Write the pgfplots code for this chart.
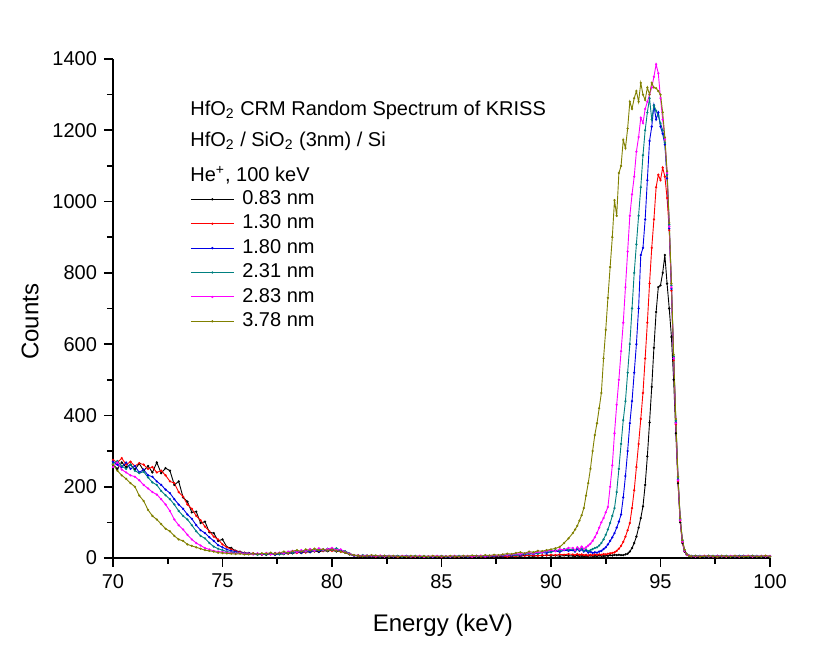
\documentclass[border=0pt]{standalone}
\usepackage{fontspec}
\setmainfont{Liberation Sans}
\usepackage{pgfplots}
\usepackage{pgfplotstable}
\pgfplotsset{compat=1.18}
\definecolor{oblack}{RGB}{0,0,0}
\definecolor{ored}{RGB}{255,0,0}
\definecolor{oblue}{RGB}{0,0,230}
\definecolor{ocyan}{RGB}{0,128,128}
\definecolor{omag}{RGB}{255,0,255}
\definecolor{oolive}{RGB}{128,128,0}

% E (keV) and counts for 0.83, 1.30, 1.80, 2.31, 2.83, 3.78 nm
\pgfplotstableread{
E a b c d e f
70.0 262 275 270 265 255 262
70.2 250 268 262 272 268 245
70.4 268 280 255 258 248 232
70.6 255 262 268 250 240 222
70.8 262 270 250 262 232 210
71.0 248 258 258 245 228 200
71.2 265 266 240 238 218 175
71.4 245 262 248 242 205 160
71.6 258 250 232 226 195 135
71.8 240 255 228 212 185 118
72.0 268 240 215 205 178 108
72.2 238 245 205 188 165 95
72.4 252 232 192 176 150 82
72.6 245 215 182 165 132 75
72.8 205 210 165 150 108 62
73.0 215 185 150 132 92 52
73.2 170 172 138 118 80 48
73.4 158 150 122 108 65 38
73.6 128 138 110 92 52 34
73.8 130 118 92 75 42 30
74.0 98 106 78 62 35 26
74.2 102 88 70 55 28 22
74.4 72 75 58 42 24 20
74.6 70 60 48 32 20 18
74.8 48 52 36 26 18 15
75.0 52 38 30 22 17 14
75.2 31 30 24 18 15 13
75.4 28 24 20 16 14 12
75.6 20 20 18 15 13 11
75.8 18 16 15 14 14 12
76.0 14 15 14 13 12 10
76.2 14 12 13 11 12 10
76.4 12 13 11 12 10 12
76.6 10 12 12 9 13 11
76.8 11 9 10 12 11 13
77.0 9 12 11 10 14 12
77.2 12 10 13 11 10 15
77.4 10 14 9 13 12 11
77.6 13 11 12 10 15 14
77.8 11 13 14 12 13 18
78.0 15 12 13 16 18 14
78.2 13 16 15 14 20 19
78.4 16 14 18 17 16 22
78.6 14 18 15 20 22 18
78.8 18 15 20 17 19 24
79.0 16 20 17 22 25 21
79.2 20 18 22 19 21 26
79.4 17 22 19 24 27 22
79.6 21 19 24 21 23 25
79.8 19 23 21 26 25 21
80.0 22 20 25 23 28 24
80.2 18 22 20 27 22 20
80.4 20 17 23 22 24 18
80.6 15 18 17 19 16 15
80.8 10 12 11 13 12 10
81.0 7 8 6 8 7 8
81.2 6 5 7 6 8 7
81.4 5 7 6 8 6 5
81.6 6 5 5 7 7 6
81.8 4 6 7 5 6 8
82.0 5 4 6 6 5 7
82.2 6 5 4 5 7 5
82.4 4 6 5 6 4 6
82.6 5 4 6 4 6 5
82.8 4 5 4 5 5 6
83.0 5 3 5 6 4 4
83.2 3 5 4 4 6 5
83.4 4 4 6 5 5 4
83.6 5 3 4 4 5 6
83.8 3 4 5 6 4 5
84.0 4 5 3 4 6 4
84.2 5 3 4 5 3 5
84.4 3 4 5 3 5 4
84.6 4 5 3 4 4 6
84.8 3 4 4 5 6 4
85.0 5 3 5 4 4 5
85.2 4 4 3 5 5 4
85.4 3 5 4 3 4 6
85.6 4 3 5 4 6 5
85.8 5 4 4 6 4 4
86.0 3 5 5 4 5 6
86.2 4 4 3 5 6 5
86.4 5 3 4 6 4 7
86.6 4 5 6 4 5 6
86.8 3 4 5 5 7 5
87.0 4 3 4 6 5 8
87.2 5 5 6 5 6 7
87.4 4 4 5 7 8 9
87.6 5 6 7 6 7 8
87.8 4 5 6 8 9 10
88.0 6 4 8 7 8 12
88.2 5 6 7 9 10 11
88.4 6 5 9 8 12 14
88.6 5 7 8 10 11 16
88.8 7 6 10 12 13 13
89.0 6 8 12 11 15 18
89.2 5 7 11 14 13 16
89.4 7 6 13 12 17 20
89.6 6 8 15 16 16 19
89.8 8 7 14 18 20 22
90.0 6 9 18 16 22 24
90.2 7 8 20 22 19 27
90.4 5 10 17 20 25 31
90.6 7 9 22 25 23 42
90.8 6 11 20 23 28 55
91.0 6 10 22 25 28 70
91.1 5 8 18 20 22 80
91.2 7 11 25 28 30 90
91.3 5 9 20 22 25 105
91.4 6 10 24 26 32 120
91.5 4 8 18 20 26 140
91.6 6 9 21 24 30 175
91.7 5 7 15 19 35 210
91.8 7 9 18 22 40 250
91.9 5 8 14 25 48 300
92.0 6 10 16 28 58 345
92.1 5 9 15 30 70 378
92.2 7 10 18 35 85 420
92.3 6 9 20 42 100 463
92.4 5 11 25 52 112 560
92.5 7 10 30 65 128 640
92.6 6 12 38 80 143 730
92.7 8 13 48 98 200 816
92.8 7 14 58 118 260 900
92.9 9 16 70 140 350 1004
93.0 8 20 85 185 430 960
93.1 9 26 102 250 500 1080
93.2 8 34 122 320 580 1100
93.3 8 45 170 387 660 1173
93.4 10 60 230 440 760 1150
93.5 12 78 300 520 860 1205
93.6 18 98 378 600 960 1280
93.7 28 140 440 700 1020 1260
93.8 42 190 520 800 1070 1290
93.9 60 255 600 880 1140 1310
94.0 85 320 700 960 1181 1280
94.1 112 390 850 1040 1235 1333
94.2 145 463 870 1130 1220 1300
94.3 205 560 950 1200 1260 1285
94.4 285 660 1060 1250 1280 1320
94.5 380 770 1170 1290 1300 1300
94.6 480 870 1210 1230 1320 1333
94.7 590 950 1270 1270 1350 1320
94.8 690 1040 1230 1255 1385 1318
94.9 760 1075 1250 1240 1360 1310
95.0 765 1060 1210 1220 1290 1300
95.1 800 1095 1190 1200 1230 1250
95.2 850 1070 1160 1165 1175 1180
95.3 770 1010 1065 1075 1080 1085
95.4 700 920 925 935 930 940
95.5 620 750 755 765 760 770
95.6 500 555 560 565 560 570
95.7 350 375 380 385 378 390
95.8 210 215 220 225 218 228
95.9 100 105 108 110 106 112
96.0 42 45 48 50 46 50
96.1 18 20 21 22 20 23
96.2 9 10 10 11 9 11
96.3 6 6 7 6 7 6
96.4 5 5 5 6 5 5
96.6 4 5 6 5 4 6
96.8 5 4 5 6 5 4
97.0 3 6 4 5 6 5
97.2 5 4 6 4 5 6
97.4 4 5 5 6 4 5
97.6 6 3 4 5 6 4
97.8 4 5 6 4 5 6
98.0 5 4 5 6 4 5
98.2 3 5 4 5 6 4
98.4 5 6 5 4 5 6
98.6 4 4 6 5 4 5
98.8 6 5 4 6 5 4
99.0 4 6 5 4 6 5
99.2 5 4 6 5 4 6
99.4 3 5 4 6 5 4
99.6 5 4 5 4 6 5
99.8 4 6 4 5 4 6
100.0 5 5 5 4 5 4
}\spectra

\begin{document}
\begin{tikzpicture}
\useasboundingbox (0,0) rectangle (410.5pt,334pt);
\begin{axis}[
  at={(56.5pt,55pt)}, anchor=south west,
  scale only axis, width=328.5pt, height=249.5pt,
  xmin=70, xmax=100, ymin=0, ymax=1400,
  axis lines*=left,
  axis line style={line width=1pt},
  xtick={70,75,...,100}, ytick={0,200,...,1400},
  minor x tick num=1, minor y tick num=1,
  tick align=outside,
  major tick length=4.5pt, minor tick length=3pt,
  tick style={black, line width=0.8pt},
  tick label style={font=\fontsize{10}{12}\selectfont},
  /pgf/number format/assume math mode=true,
  /pgf/number format/1000 sep={},
  xlabel={Energy (keV)}, ylabel={Counts},
  label style={font=\fontsize{12}{14}\selectfont},
  xlabel style={at={(axis description cs:0.502,-0.134)}, anchor=center},
  ylabel style={at={(axis description cs:-0.126,0.473)}, anchor=center},
  legend cell align=left,
  legend style={at={(axis description cs:0.1172,0.738)}, anchor=north west,
    draw=none, fill=none, inner sep=0pt, row sep=3pt, column sep=4pt,
    font=\fontsize{10}{12}\selectfont,
    nodes={inner sep=0pt, text height=7.2pt, text depth=2pt}},
  legend image code/.code={\draw[#1, mark repeat=2, mark phase=2]
    plot coordinates {(0pt,0pt) (10.75pt,0pt) (21.5pt,0pt)};},
  every axis plot/.append style={line width=0.45pt, mark=*, mark size=0.32pt},
]
\addplot[oblack, mark options={fill=oblack}] table[x=E, y=a] {\spectra};
\addplot[ored, mark options={fill=ored}] table[x=E, y=b] {\spectra};
\addplot[oblue, mark options={fill=oblue}] table[x=E, y=c] {\spectra};
\addplot[ocyan, mark options={fill=ocyan}] table[x=E, y=d] {\spectra};
\addplot[omag, mark options={fill=omag}] table[x=E, y=e] {\spectra};
\addplot[oolive, mark options={fill=oolive}] table[x=E, y=f] {\spectra};
\legend{0.83 nm, 1.30 nm, 1.80 nm, 2.31 nm, 2.83 nm, 3.78 nm}
\node[anchor=base west, inner sep=0pt, font=\fontsize{10}{12}\selectfont]
  at (axis description cs:0.1172,0.886) {HfO\textsubscript{2} CRM Random Spectrum of KRISS};
\node[anchor=base west, inner sep=0pt, font=\fontsize{10}{12}\selectfont]
  at (axis description cs:0.1172,0.824) {HfO\textsubscript{2} / SiO\textsubscript{2} (3nm) / Si};
\node[anchor=base west, inner sep=0pt, font=\fontsize{10}{12}\selectfont]
  at (axis description cs:0.1172,0.754) {He\textsuperscript{+}, 100 keV};
\end{axis}
\end{tikzpicture}
\end{document}
